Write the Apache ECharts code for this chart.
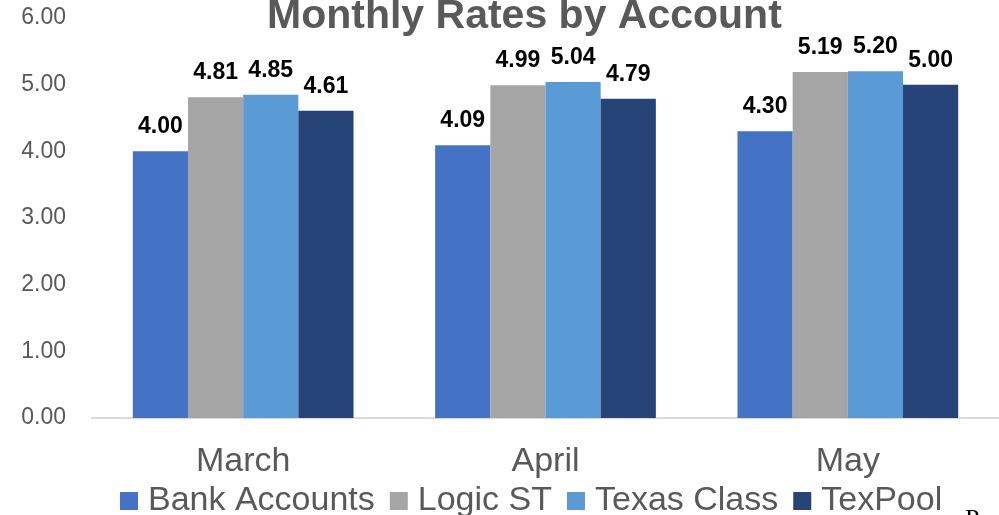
<!DOCTYPE html>
<html>
<head>
<meta charset="utf-8">
<script src="https://cdn.jsdelivr.net/npm/echarts@6/dist/echarts.min.js"></script>
<style>
  html, body { margin: 0; padding: 0; background: #fff; }
  #chart { width: 999px; height: 515px; }
</style>
</head>
<body>
<div id="chart"></div>
<script>
// data
const months = ["March", "April", "May"];
const bankAccounts = [4.00, 4.09, 4.30];
const logicST = [4.81, 4.99, 5.19];
const texasClass = [4.85, 5.04, 5.20];
const texPool = [4.61, 4.79, 5.00];

const myChart = echarts.init(document.getElementById("chart"));

const labelStyle = {
  show: true,
  position: "top",
  distance: 13,
  color: "#000",
  fontFamily: "Liberation Sans, Arial",
  fontWeight: "bold",
  fontSize: 23,
  formatter: p => p.value.toFixed(2)
};

const mkSeries = (name, data, color) => ({
  name: name,
  type: "bar",
  data: data,
  barGap: "0%",
  barCategoryGap: "27%",
  itemStyle: { color: color },
  label: labelStyle
});

const option = {
  animation: false,
  title: {
    text: "Monthly Rates by Account",
    left: 267,
    top: -4,
    padding: 0,
    textStyle: {
      color: "#595959",
      fontFamily: "Liberation Sans, Arial",
      fontWeight: "bold",
      fontSize: 41
    }
  },
  legend: {
    left: 115,
    top: 479,
    itemWidth: 18,
    itemHeight: 18,
    itemGap: 15,
    icon: "rect",
    textStyle: {
      color: "#595959",
      fontFamily: "Liberation Sans, Arial",
      fontSize: 34,
      padding: [0, 0, 0, 5]
    }
  },
  grid: { left: 92, right: 0, top: 18, bottom: 97, containLabel: false },
  xAxis: {
    type: "category",
    data: months,
    axisLine: { lineStyle: { color: "#d9d9d9", width: 2 } },
    axisTick: { show: false },
    axisLabel: {
      color: "#595959",
      fontFamily: "Liberation Sans, Arial",
      fontSize: 34,
      margin: 27
    }
  },
  yAxis: {
    type: "value",
    min: 0,
    max: 6,
    interval: 1,
    splitLine: { show: false },
    axisLine: { show: false },
    axisTick: { show: false },
    axisLabel: {
      color: "#595959",
      fontFamily: "Liberation Sans, Arial",
      fontSize: 23,
      margin: 26,
      formatter: v => v.toFixed(2)
    }
  },
  graphic: [
    {
      type: "text",
      left: 965,
      top: 507,
      style: { text: "P", fontFamily: "Liberation Serif", fontSize: 26, fill: "#000" }
    }
  ],
  series: [
    mkSeries("Bank Accounts", bankAccounts, "#4472C4"),
    mkSeries("Logic ST", logicST, "#A5A5A5"),
    mkSeries("Texas Class", texasClass, "#5B9BD5"),
    mkSeries("TexPool", texPool, "#264478")
  ]
};

myChart.setOption(option);
</script>
</body>
</html>
